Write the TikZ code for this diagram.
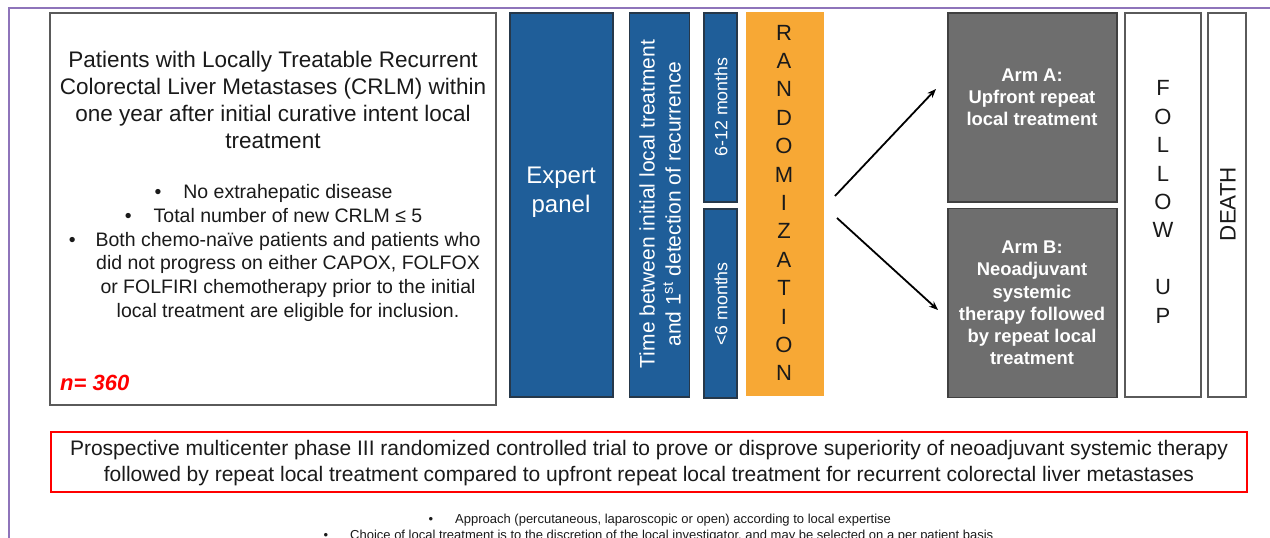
\documentclass[tikz,border=0pt]{standalone}
\usepackage{fontspec}
\setmainfont{Liberation Sans}
\usetikzlibrary{arrows.meta}
\definecolor{frameviolet}{HTML}{8E74BA}
\definecolor{boxgrey}{HTML}{5A5A5A}
\definecolor{panelblue}{HTML}{1F5E99}
\definecolor{paneledge}{HTML}{26384A}
\definecolor{randorange}{HTML}{F7A835}
\definecolor{armgrey}{HTML}{6E6E6E}
\definecolor{armedge}{HTML}{404040}
\definecolor{txtdark}{HTML}{1A1A1A}
\tikzset{
  box/.style={draw=boxgrey, line width=1.3pt, fill=white, inner sep=0pt},
  bluebox/.style={draw=paneledge, line width=1.2pt, fill=panelblue, inner sep=0pt},
  armbox/.style={draw=armedge, line width=1.2pt, fill=armgrey, inner sep=0pt},
  randbox/.style={fill=randorange, inner sep=0pt},
  redbox/.style={draw=red, line width=2.4pt, fill=white, inner sep=0pt},
  arm/.style={-{Stealth[length=9pt,width=7pt]}, line width=1.8pt, black},
  lbl/.style={inner sep=0pt, align=center, text=txtdark},
}
\begin{document}
\begin{tikzpicture}[x=1pt,y=-1pt]
\useasboundingbox (0,0) rectangle (1270,538);
\fill[white] (0,0) rectangle (1270,538);
% outer purple frame
\draw[frameviolet, line width=2.6pt] (9,545) -- (9,8) -- (1275,8);

% left box
\path[box] (50,13) rectangle (496,405);
\node[lbl, font=\fontsize{22.5}{26.7}\selectfont] (title) at (273,100)
  {Patients with Locally Treatable Recurrent\\Colorectal Liver Metastases (CRLM) within\\one year after initial curative intent local\\treatment};
\node[lbl, font=\fontsize{19.5}{23.8}\selectfont] (crit) at (288,253)
  {\llap{\textbullet\hspace{22pt}}No extrahepatic disease\\
   \llap{\textbullet\hspace{22pt}}Total number of new CRLM ≤ 5\\
   \llap{\textbullet\hspace{20pt}}Both chemo-naïve patients and patients who\\
   did not progress on either CAPOX, FOLFOX\\
   or FOLFIRI chemotherapy prior to the initial\\
   local treatment are eligible for inclusion.};
\node[lbl, anchor=west, text=red, font=\fontsize{22}{24}\selectfont\bfseries\itshape] (n) at (60,383) {n= 360};

% expert panel
\node[bluebox, minimum width=103pt, minimum height=384pt] (expert) at (561.5,205) {};
\node[lbl, text=white, font=\fontsize{24}{29.5}\selectfont] (expertt) at (561,192) {Expert\\panel};

% time box
\node[bluebox, minimum width=60pt, minimum height=384pt] (time) at (659.5,205) {};
\node[lbl, text=white, rotate=90, font=\fontsize{21}{26}\selectfont] (timet) at (660,204)
  {Time between initial local treatment\\and 1\textsuperscript{st} detection of recurrence};

% month boxes
\node[bluebox, minimum width=33pt, minimum height=189pt] (late) at (720.5,107.5) {};
\node[lbl, text=white, rotate=90, font=\fontsize{17.8}{20}\selectfont] (latet) at (721,107) {6-12 months};
\node[bluebox, minimum width=33pt, minimum height=189pt] (early) at (720.5,303.5) {};
\node[lbl, text=white, rotate=90, font=\fontsize{17.8}{20}\selectfont] (earlyt) at (721,304) {<6 months};

% randomization
\node[randbox, minimum width=78pt, minimum height=384pt] (rand) at (784.5,204) {};
\node[lbl, font=\fontsize{22}{28.4}\selectfont] (randt) at (784,203)
  {R\\A\\N\\D\\O\\M\\I\\Z\\A\\T\\I\\O\\N};

% arms
\node[armbox, minimum width=169pt, minimum height=189pt] (armA) at (1032.5,107.5) {};
\node[lbl, text=white, font=\fontsize{18.4}{22}\selectfont\bfseries] (armAt) at (1032,97)
  {Arm A:\\Upfront repeat\\local treatment};
\node[armbox, minimum width=169pt, minimum height=189pt] (armB) at (1032.5,303) {};
\node[lbl, text=white, font=\fontsize{18.4}{22.2}\selectfont\bfseries] (armBt) at (1032,303)
  {Arm B:\\Neoadjuvant\\systemic\\therapy followed\\by repeat local\\treatment};

% arrows
\coordinate (s1) at (835,196);
\coordinate (e1) at (936,89);
\coordinate (s2) at (837,218);
\coordinate (e2) at (938,310);
\draw[arm] (s1) -- (e1);
\draw[arm] (s2) -- (e2);

% follow up
\node[box, minimum width=76pt, minimum height=384pt] (follow) at (1163,205) {};
\node[lbl, font=\fontsize{22}{28.4}\selectfont] (followt) at (1163,202)
  {F\\O\\L\\L\\O\\W\\[28.4pt]U\\P};

% death
\node[box, minimum width=38pt, minimum height=384pt] (death) at (1227,205) {};
\node[lbl, rotate=90, font=\fontsize{22.4}{24}\selectfont] (deatht) at (1228,204) {DEATH};

% red box
\node[redbox, minimum width=1196pt, minimum height=60pt] (trial) at (649,462) {};
\node[lbl, font=\fontsize{21}{26}\selectfont] (trialt) at (649,463)
  {Prospective multicenter phase III randomized controlled trial to prove or disprove superiority of neoadjuvant systemic therapy\\
   followed by repeat local treatment compared to upfront repeat local treatment for recurrent colorectal liver metastases};

% bottom notes
\node[lbl, anchor=west, font=\fontsize{13}{15}\selectfont] (note1) at (455,520)
  {\llap{\textbullet\hspace{22pt}}Approach (percutaneous, laparoscopic or open) according to local expertise};
\node[lbl, anchor=west, font=\fontsize{13}{15}\selectfont] (note2) at (350,536)
  {\llap{\textbullet\hspace{22pt}}Choice of local treatment is to the discretion of the local investigator, and may be selected on a per patient basis};
\end{tikzpicture}
\end{document}
